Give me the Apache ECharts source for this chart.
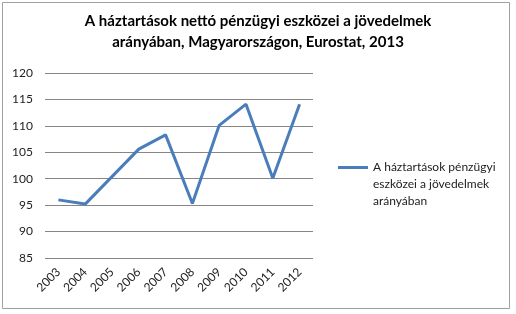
<!DOCTYPE html>
<html><head><meta charset="utf-8">
<script src="https://cdn.jsdelivr.net/npm/echarts@6/dist/echarts.min.js"></script>
<style>html,body{margin:0;padding:0;background:#fff}#c{width:516px;height:314px}</style>
</head><body><div id="c"></div>
<script>
var titleText = 'A háztartások nettó pénzügyi eszközei a jövedelmek\narányában, Magyarországon, Eurostat, 2013';
var seriesName = 'A háztartások pénzügyi eszközei a jövedelmek arányában';
var legendLines = ['A háztartások pénzügyi', 'eszközei a jövedelmek', 'arányában'];
var years = ['2003','2004','2005','2006','2007','2008','2009','2010','2011','2012'];
var values = [96.0, 95.2, 100.4, 105.6, 108.3, 95.3, 110.1, 114.1, 100.1, 114.1];
var yTicks = { min: 85, max: 120, interval: 5 };

var chart = echarts.init(document.getElementById('c'), null, {renderer:'canvas'});
chart.setOption({
  animation: false,
  backgroundColor: '#fff',
  graphic: [{
    type: 'rect', shape: {x: 2.5, y: 2.5, width: 507, height: 306},
    style: {fill: 'none', stroke: '#a0a0a0', lineWidth: 1}, silent: true
  }],
  title: {
    text: titleText, left: 253, top: 6, textAlign: 'center',
    textStyle: {fontFamily: 'Lato', fontWeight: 'bold', fontSize: 15, lineHeight: 21, color: '#000'}
  },
  legend: {
    left: 333, top: 154, itemWidth: 30, itemHeight: 51, itemGap: 4,
    icon: 'path://M0,7L30,7L30,10L0,10Z M0,0L0.05,0L0.05,0.05Z M0,51L0.05,51L0.05,51.05Z',
    formatter: function(){ return legendLines.join('\n'); },
    textStyle: {fontFamily: 'Lato', fontSize: 12, lineHeight: 17, color: '#222'},
    data: [seriesName]
  },
  grid: {left: 45, right: 203, top: 73, bottom: 56},
  xAxis: {
    type: 'category', data: years, boundaryGap: true,
    axisLine: {show: false}, axisTick: {show: false},
    axisLabel: {rotate: 45, margin: 12, fontFamily: 'Lato', fontSize: 12, color: '#222'}
  },
  yAxis: {
    type: 'value', min: yTicks.min, max: yTicks.max, interval: yTicks.interval,
    axisLine: {show: false}, axisTick: {show: false},
    splitLine: {lineStyle: {color: '#868686', width: 1}},
    axisLabel: {margin: 12, fontFamily: 'Lato', fontSize: 12, color: '#222'}
  },
  series: [{
    name: seriesName, type: 'line', data: values, symbol: 'none',
    lineStyle: {color: '#4A7EBB', width: 3}, itemStyle: {color: '#4A7EBB'}
  }]
});
</script></body></html>
